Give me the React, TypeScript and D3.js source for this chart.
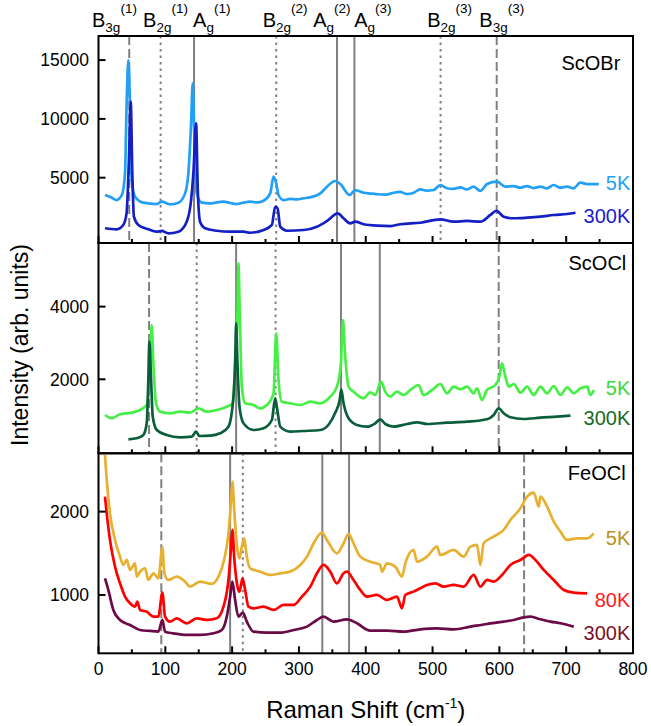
import React from 'react';
import * as d3 from 'd3';

// ---------- data ----------
const xDomain: [number, number] = [0, 800];
const xMajorTicks = [0, 100, 200, 300, 400, 500, 600, 700, 800];
const xMinorTicks = [50, 150, 250, 350, 450, 550, 650, 750];

const scobrDomain: [number, number] = [-553, 17048];
const scoclDomain: [number, number] = [-36, 5750];
const feoclDomain: [number, number] = [300, 2700];
const scobrTicks = [5000, 10000, 15000];
const scoclTicks = [2000, 4000];
const feoclTicks = [1000, 2000];

const scobr5K: [number, number][] = [
  [9.7, 3530], [17, 3380], [27, 3100], [35, 3530], [39.7, 5370], [42, 11040], [44.7, 15000], [47.2, 11040], [49.7, 4800], [54.7, 3380],
  [67, 2875], [87, 2760], [94.7, 2960], [107, 2735], [119.6, 2875], [129.6, 3670], [134.5, 5370], [138.6, 9625], [141, 13020], [143.6, 8200],
  [147, 3670], [154.6, 2875], [167, 2820], [177, 2900], [187, 2960], [197, 2850], [207, 2760], [217, 2880], [227, 2960], [237, 2900], [247, 3045],
  [257, 3670], [262, 5085], [266, 4520], [269.4, 3530], [277, 3100], [287, 3200], [297, 3160], [307, 3250], [317, 3330], [332, 3670], [342, 4235],
  [354, 4720], [362, 4460], [376, 3530], [384, 3950], [397, 3720], [407, 3650], [417, 3590], [430, 3560], [441.7, 3720], [451, 3800],
  [461.7, 3615], [471, 3700], [481.6, 4010], [491, 3900], [501.6, 3950], [511.6, 4380], [521.6, 4100], [531, 4050], [541.6, 4180],
  [551, 4000], [561.5, 4235], [571.5, 3870], [581.5, 4460], [596.5, 4660], [609, 4235], [621.4, 4290], [631, 4150], [641.5, 4290],
  [651, 4120], [661.4, 4235], [671, 4100], [681.4, 4380], [691, 4150], [701.4, 4235], [711, 4100], [721.3, 4575], [731.4, 4460], [748.8, 4460],
];
const scobr300K: [number, number][] = [
  [9.7, 700], [27, 610], [37, 980], [42, 1970], [45.7, 6785], [48.2, 11460], [50.6, 5370], [53, 1685], [59.6, 980], [74.6, 610],
  [87, 410], [94.7, 470], [104.6, 270], [119.6, 410], [132, 1260], [138.6, 3100], [142, 5370], [146, 9625], [148.6, 3950], [152, 1260],
  [159.6, 700], [177, 490], [197, 410], [217, 410], [227, 320], [247, 550], [259.5, 980], [264.4, 2530], [268, 2400], [272, 830],
  [282, 490], [307, 550], [327, 830], [342, 1320], [358, 1970], [366.7, 1550], [376.8, 1120], [384, 1260], [397, 1040], [417, 920],
  [437, 890], [451.7, 1040], [481.6, 1170], [511.6, 1460], [531.5, 1260], [551.6, 1320], [571.5, 1260], [586.5, 1830], [595.5, 2190],
  [606.4, 1685], [621.4, 1550], [641.5, 1600], [661.4, 1685], [681.4, 1830], [701.4, 1910], [713.9, 2020],
];
const scocl5K: [number, number][] = [
  [9.7, 1018], [19.8, 927], [32.2, 1037], [49.7, 1082], [62, 1155], [72.2, 1293], [76.1, 1980], [79.6, 3494], [82.1, 2440], [86.1, 1340],
  [92.1, 1110], [107, 1064], [122, 1110], [137, 1082], [149.5, 1202], [162, 1110], [177, 1155], [192, 1247], [201, 1340], [204.5, 2440],
  [208, 3815], [209.4, 5190], [212, 3356], [214.5, 1797], [219.5, 1340], [232, 1293], [242, 1202], [252, 1293], [262, 1615], [266, 3265],
  [269.4, 1980], [274.4, 1384], [287, 1340], [302, 1293], [317, 1384], [332, 1340], [346.8, 1521], [356.8, 1797], [362.8, 2440], [365.8, 3631],
  [369.3, 2622], [374.3, 1797], [381.7, 1659], [396.7, 1477], [406.7, 1642], [414.2, 1568], [422.8, 1934], [429.2, 1659], [436.7, 1521],
  [446.7, 1659], [456.6, 1568], [466.7, 1706], [479, 1843], [486.6, 1568], [499.2, 1706], [511.6, 1870], [521.6, 1615], [531.5, 1797],
  [541.6, 1725], [551.6, 1797], [561.5, 1615], [566.6, 1752], [574, 1430], [581.5, 1706], [594, 1843], [600, 2071], [604, 2440], [609, 2071],
  [614, 1797], [621.4, 1870], [631.5, 1632], [641.5, 1797], [651.4, 1568], [661.4, 1797], [671.5, 1615], [681.4, 1815], [691.4, 1568],
  [701.4, 1779], [711.3, 1615], [721.3, 1752], [731.4, 1797], [736.3, 1568], [741.3, 1706],
];
const scocl300K: [number, number][] = [
  [44.7, 349], [57.2, 377], [67.1, 468], [72.2, 790], [74.6, 1980], [76.1, 3034], [78.7, 1980], [81.2, 971], [87.2, 605], [102, 468],
  [122, 404], [139.6, 421], [146, 558], [151, 440], [167, 449], [182, 514], [194.5, 697], [202, 1521], [204.5, 2440], [206, 3540],
  [208, 2440], [211, 1247], [217, 790], [232, 605], [247, 652], [259.5, 880], [264.4, 1477], [268, 1110], [272, 697], [287, 558],
  [307, 578], [332, 605], [344, 743], [354, 1064], [361, 1430], [363.3, 1725], [366.8, 1340], [374.3, 927], [386.8, 743], [401.8, 697],
  [414.2, 790], [421.7, 900], [429.2, 770], [441.7, 697], [461.7, 770], [476.7, 817], [491.7, 770], [521.6, 806], [551.6, 834],
  [581.5, 900], [591.5, 1018], [599, 1202], [606.4, 1064], [616.5, 955], [636.4, 908], [661.4, 944], [686.4, 971], [706.4, 999],
];
const feocl5K: [number, number][] = [
  [9.7, 2680], [12.3, 2380], [17.2, 1980], [24.7, 1660], [32.2, 1460], [37.2, 1360], [42.2, 1420], [47.2, 1300], [54.7, 1380], [57.2, 1220],
  [62.2, 1280], [69.7, 1320], [74.6, 1180], [82.1, 1260], [89.6, 1200], [95.6, 1572], [98.6, 1260], [104.6, 1180], [117.2, 1220], [129.6, 1160],
  [137, 1100], [152, 1160], [169.6, 1132], [179.5, 1220], [188, 1420], [194.5, 1740], [198.5, 2140], [200.4, 2360], [203.4, 1980], [208, 1540],
  [211, 1440], [214.5, 1580], [218, 1680], [222, 1460], [227, 1320], [242, 1280], [257, 1240], [272, 1260], [287, 1280], [302, 1360],
  [312, 1460], [322, 1620], [334.4, 1748], [341.9, 1660], [356.8, 1500], [366.8, 1620], [374.3, 1732], [381.7, 1620], [391.8, 1460],
  [406.7, 1400], [421.7, 1360], [424.3, 1280], [431.8, 1380], [444.2, 1340], [454.2, 1220], [459.2, 1380], [471.6, 1540], [476.7, 1400],
  [491.7, 1460], [506.7, 1580], [511.6, 1480], [531.5, 1540], [546.5, 1460], [556.6, 1580], [566.6, 1600], [571.5, 1360], [576.5, 1620],
  [591.5, 1700], [606.4, 1780], [616.5, 1900], [631.5, 2040], [641.5, 2180], [651.4, 2228], [659, 2060], [661.4, 2180], [671.5, 2060],
  [681.4, 1880], [691.4, 1760], [701.4, 1660], [716.4, 1680], [731.4, 1680], [741.3, 1740],
];
const feocl80K: [number, number][] = [
  [9.7, 2180], [12.3, 1980], [17.2, 1660], [24.7, 1340], [32.2, 1140], [39.7, 980], [47.2, 900], [54.7, 860], [58.1, 920], [62.2, 820],
  [72.2, 800], [82.1, 740], [89.6, 740], [95.6, 1028], [99.6, 740], [107, 680], [117.2, 720], [132, 660], [147, 720], [162, 700],
  [177, 720], [187, 860], [194.5, 1180], [198.5, 1580], [200.4, 1780], [203.4, 1420], [208, 1100], [211, 1040], [215.5, 1200], [219.5, 1060],
  [224.4, 860], [232, 840], [247, 860], [262, 820], [277, 880], [292, 880], [304.4, 980], [317, 1100], [327, 1260], [336.8, 1360],
  [346.8, 1280], [356.8, 1140], [366.8, 1260], [371.8, 1280], [381.7, 1180], [391.8, 1060], [401.8, 980], [416.7, 1000], [431.8, 940],
  [446.7, 980], [454.2, 840], [459.2, 1000], [471.6, 1040], [481.6, 1080], [491.7, 1120], [504.1, 1140], [516.6, 1100], [531.5, 1120],
  [546.5, 1100], [561.5, 1240], [571.5, 1100], [581.5, 1180], [591.5, 1160], [604, 1240], [616.5, 1360], [631.5, 1420], [644, 1480],
  [654, 1420], [666.4, 1300], [681.4, 1180], [696.4, 1060], [711.3, 1028], [731.4, 1020],
];
const feocl300K: [number, number][] = [
  [9.7, 1200], [14.7, 1060], [22.2, 820], [32.2, 700], [47.2, 640], [62.2, 580], [77.2, 568], [89.6, 560], [95.6, 700], [99.6, 560],
  [112, 540], [132, 520], [152, 520], [172, 540], [184.6, 580], [192, 740], [197, 980], [200.4, 1160], [204.5, 940], [209.4, 740],
  [216, 788], [222, 680], [232, 560], [252, 548], [272, 548], [292, 580], [312, 620], [327, 700], [336.8, 740], [351.8, 680],
  [371.8, 708], [386.8, 660], [406.7, 572], [431.8, 572], [456.6, 560], [481.6, 588], [506.7, 600], [531.5, 588], [556.6, 620],
  [581.5, 652], [606.4, 680], [621.4, 700], [636.4, 732], [646.4, 740], [661.4, 708], [676.4, 680], [691.4, 660], [711.3, 620],
];

// phonon mode reference lines (cm-1) and their symmetry
const scobrModeShifts = [46, 93, 143, 266, 357, 383, 512, 596];
const scobrModeKinds = ['B3g', 'B2g', 'Ag', 'B2g', 'Ag', 'Ag', 'B2g', 'B3g'];
const scoclModeShifts = [75.7, 147, 206, 265, 363, 421, 599];
const scoclModeKinds = ['B3g', 'B2g', 'Ag', 'B2g', 'Ag', 'Ag', 'B3g'];
const feoclModeShifts = [94, 197, 216, 335, 375, 637];
const feoclModeKinds = ['B3g', 'Ag', 'B2g', 'Ag', 'Ag', 'B3g'];

// top annotations
const modeLabelMain = ['B', 'B', 'A', 'B', 'A', 'A', 'B', 'B'];
const modeLabelSub = ['3g', '2g', 'g', '2g', 'g', 'g', '2g', '3g'];
const modeLabelSup = ['(1)', '(1)', '(1)', '(2)', '(2)', '(3)', '(3)', '(3)'];
const modeLabelStart = [-9.7, 66.7, 141.6, 245.7, 321.3, 382.8, 492, 570];

const panelNames = ['ScOBr', 'ScOCl', 'FeOCl'];
const panelNameX = [781, 790, 789];
const panelNameY = [14157, 5007, 2380];
const scobrTemps = ['5K', '300K'];
const scoclTemps = ['5K', '300K'];
const feoclTemps = ['5K', '80K', '300K'];
const scobrTempY = [3954, 1148];
const scoclTempY = [1568, 743];
const feoclTempY = [1600, 859, 460];

// ---------- layout / style ----------
const W = 651, H = 726;
const LEFT = 98.5, RIGHT = 633;
const FONT = '"Liberation Sans", Arial, Helvetica, sans-serif';
const GRAY = '#808080';
const dashFor: Record<string, string | undefined> = { B3g: '9,4', B2g: '2.5,4', Ag: undefined };

const x = d3.scaleLinear().domain(xDomain).range([LEFT, RIGHT]);

type Panel = {
  top: number; bottom: number; domain: [number, number]; ticks: number[];
  series: { data: [number, number][]; color: string }[];
  modes: number[]; kinds: string[];
  temps: string[]; tempY: number[]; tempColors: string[];
};

const panels: Panel[] = [
  {
    top: 36, bottom: 243, domain: scobrDomain, ticks: scobrTicks,
    series: [{ data: scobr5K, color: '#22a0f5' }, { data: scobr300K, color: '#1420c4' }],
    modes: scobrModeShifts, kinds: scobrModeKinds,
    temps: scobrTemps, tempY: scobrTempY, tempColors: ['#22a0f5', '#1a1ad0'],
  },
  {
    top: 243, bottom: 453.3, domain: scoclDomain, ticks: scoclTicks,
    series: [{ data: scocl5K, color: '#44f044' }, { data: scocl300K, color: '#0a5e3c' }],
    modes: scoclModeShifts, kinds: scoclModeKinds,
    temps: scoclTemps, tempY: scoclTempY, tempColors: ['#3ad83a', '#176a22'],
  },
  {
    top: 453.3, bottom: 653.3, domain: feoclDomain, ticks: feoclTicks,
    series: [{ data: feocl5K, color: '#e8b030' }, { data: feocl80K, color: '#ff0000' }, { data: feocl300K, color: '#6b0a45' }],
    modes: feoclModeShifts, kinds: feoclModeKinds,
    temps: feoclTemps, tempY: feoclTempY, tempColors: ['#b8901e', '#ff1a1a', '#7d1226'],
  },
];

export default function App() {
  return (
    <svg width={W} height={H} style={{ position: 'absolute', left: 0, top: 0, background: '#fff' }}
      fontFamily={FONT}>
      <defs>
        {panels.map((p, i) => (
          <clipPath id={`clip${i}`} key={i}>
            <rect x={LEFT} y={p.top} width={RIGHT - LEFT} height={p.bottom - p.top} />
          </clipPath>
        ))}
      </defs>
      {panels.map((p, i) => {
        const y = d3.scaleLinear().domain(p.domain).range([p.bottom, p.top]);
        const line = d3.line<[number, number]>().x(d => x(d[0])).y(d => y(d[1])).curve(d3.curveMonotoneX);
        return (
          <g key={i}>
            {p.modes.map((m, j) => (
              <line key={j} x1={x(m)} x2={x(m)} y1={p.top} y2={p.bottom} stroke={GRAY} strokeWidth={2}
                strokeDasharray={dashFor[p.kinds[j]]} />
            ))}
            <g clipPath={`url(#clip${i})`}>
              {p.series.map((s, j) => (
                <path key={j} d={line(s.data) || ''} fill="none" stroke={s.color} strokeWidth={2.7}
                  strokeLinejoin="round" />
              ))}
            </g>
            <rect x={LEFT} y={p.top} width={RIGHT - LEFT} height={p.bottom - p.top} fill="none" stroke="#000" strokeWidth={2} />
            {xMajorTicks.map(t => (
              <line key={'M' + t} x1={x(t)} x2={x(t)} y1={p.bottom} y2={p.bottom - 7} stroke="#000" strokeWidth={2} />
            ))}
            {xMinorTicks.map(t => (
              <line key={'m' + t} x1={x(t)} x2={x(t)} y1={p.bottom} y2={p.bottom - 4} stroke="#000" strokeWidth={2} />
            ))}
            {p.ticks.map(t => (
              <g key={'y' + t}>
                <line x1={LEFT} x2={LEFT + 7} y1={y(t)} y2={y(t)} stroke="#000" strokeWidth={2} />
                <text x={89} y={y(t)} dy="0.36em" textAnchor="end" fontSize={17.5} fill="#000">{t}</text>
              </g>
            ))}
            <text x={x(panelNameX[i])} y={y(panelNameY[i])} textAnchor="end" fontSize={20} fill="#000">{panelNames[i]}</text>
            {p.temps.map((t, j) => (
              <text key={t} x={x(796)} y={y(p.tempY[j])} textAnchor="end" fontSize={20} fill={p.tempColors[j]}>{t}</text>
            ))}
          </g>
        );
      })}
      {xMajorTicks.map(t => (
        <text key={t} x={x(t)} y={675} textAnchor="middle" fontSize={17.5} fill="#000">{t}</text>
      ))}
      {modeLabelMain.map((m, i) => (
        <text key={i} x={x(modeLabelStart[i])} y={27} fontSize={20} fill="#000">
          {m}
          <tspan fontSize={13.5} dy={5}>{modeLabelSub[i]}</tspan>
          <tspan fontSize={13.5} dy={-19.5}>{modeLabelSup[i]}</tspan>
        </text>
      ))}
      <text x={(LEFT + RIGHT) / 2} y={718} textAnchor="middle" fontSize={24} fill="#000">
        Raman Shift (cm<tspan fontSize={14} dy={-10}>-1</tspan><tspan dy={10}>)</tspan>
      </text>
      <text transform={`translate(28,345) rotate(-90)`} textAnchor="middle" fontSize={23} fill="#000">
        Intensity (arb. units)
      </text>
    </svg>
  );
}
